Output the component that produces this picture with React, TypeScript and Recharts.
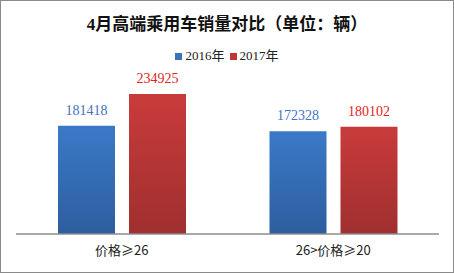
import { BarChart, Bar, XAxis, YAxis, LabelList } from 'recharts'

const categories = ['价格≥26', '26>价格≥20']
const sales2016 = [181418, 172328]
const sales2017 = [234925, 180102]
const seriesNames = ['2016年', '2017年']

const chartData = categories.map((name, i) => ({
  name,
  y2016: sales2016[i],
  y2017: sales2017[i],
}))

const serif = '"Liberation Serif", "Times New Roman", "Noto Sans CJK SC", serif'
const sans = '"Noto Sans CJK SC", "DejaVu Sans", sans-serif'

export default function App() {
  return (
    <div
      style={{
        position: 'absolute',
        left: 0,
        top: 0,
        width: 454,
        height: 273,
        background: '#fff',
        border: '1px solid #8a8a8a',
        boxSizing: 'border-box',
        overflow: 'hidden',
      }}
    >
      <div
        style={{
          position: 'absolute',
          left: 0,
          right: 0,
          top: 12,
          textAlign: 'center',
          fontFamily: serif,
          fontWeight: 'bold',
          fontSize: 17,
          color: '#111',
          lineHeight: '24px',
        }}
      >
        4月高端乘用车销量对比（单位：辆）
      </div>
      <div
        style={{
          position: 'absolute',
          left: 0,
          right: 0,
          top: 47,
          display: 'flex',
          justifyContent: 'center',
          alignItems: 'center',
          fontFamily: serif,
          fontSize: 13,
          color: '#222',
          lineHeight: '16px',
        }}
      >
        <span style={{ width: 7, height: 7, background: '#3a72bd', marginRight: 3 }} />
        <span style={{ marginRight: 5 }}>{seriesNames[0]}</span>
        <span style={{ width: 7, height: 7, background: '#bf3636', marginRight: 3 }} />
        <span>{seriesNames[1]}</span>
      </div>
      <BarChart
        width={452}
        height={271}
        data={chartData}
        margin={{ top: 84, right: 14, bottom: 0, left: 15 }}
        barSize={57}
        barGap={14}
      >
        <defs>
          <linearGradient id="gBlue" x1="0" y1="0" x2="0" y2="1">
            <stop offset="0%" stopColor="#3b79c8" />
            <stop offset="100%" stopColor="#2d5e9e" />
          </linearGradient>
          <linearGradient id="gRed" x1="0" y1="0" x2="0" y2="1">
            <stop offset="0%" stopColor="#c93b3b" />
            <stop offset="100%" stopColor="#a02f2f" />
          </linearGradient>
        </defs>
        <YAxis hide domain={[0, 250000]} />
        <XAxis
          dataKey="name"
          axisLine={{ stroke: '#8c8c8c', strokeWidth: 1.5 }}
          tickLine={false}
          tickSize={0}
          tickMargin={12}
          height={38}
          tick={{ fill: '#222', fontSize: 13, fontFamily: sans }}
        />
        <Bar dataKey="y2016" fill="url(#gBlue)" isAnimationActive={false}>
          <LabelList
            dataKey="y2016"
            position="top"
            offset={11}
            style={{ fill: '#4472c4', fontSize: 14, fontFamily: serif }}
          />
        </Bar>
        <Bar dataKey="y2017" fill="url(#gRed)" isAnimationActive={false}>
          <LabelList
            dataKey="y2017"
            position="top"
            offset={11}
            style={{ fill: '#e02424', fontSize: 14, fontFamily: serif }}
          />
        </Bar>
      </BarChart>
    </div>
  )
}
